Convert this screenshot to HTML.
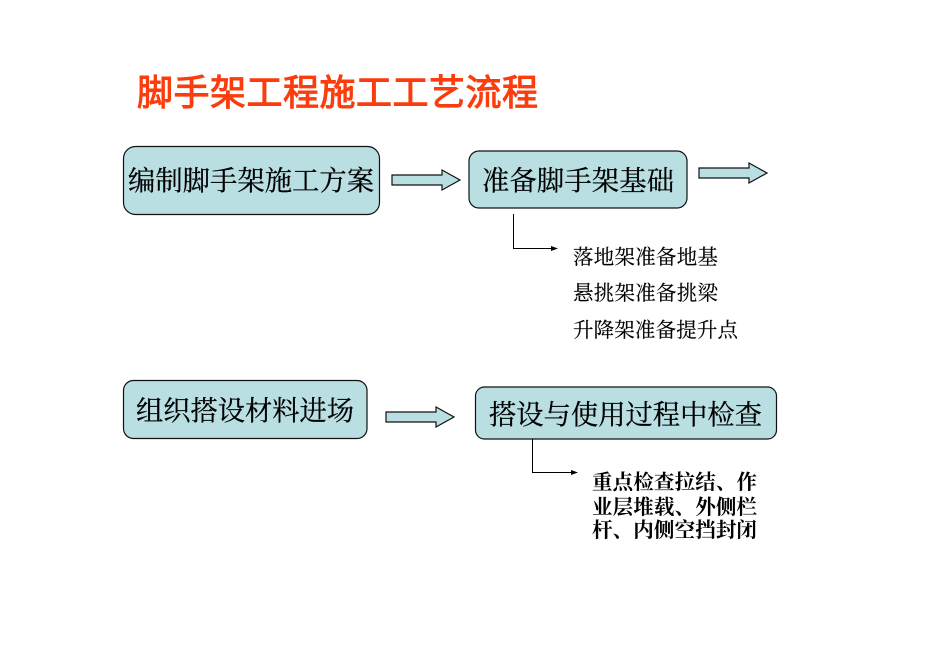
<!DOCTYPE html>
<html><head><meta charset="utf-8"><style>
html,body{margin:0;padding:0;background:#fff;width:950px;height:672px;overflow:hidden}
svg{display:block}
text{font-family:"Liberation Serif","Noto Serif CJK SC",serif;fill:#000}
</style></head><body>
<svg width="950" height="672" viewBox="0 0 950 672" xmlns="http://www.w3.org/2000/svg">
<text x="137" y="105" font-size="36" style="fill:#fb3c0c;stroke:#fb3c0c;stroke-width:1;font-family:'Liberation Sans','Noto Sans CJK SC',sans-serif" textLength="401" lengthAdjust="spacing">脚手架工程施工工艺流程</text>

<g fill="#b9dfe3" stroke="#111" stroke-width="1.2">
<rect x="123.500" y="146.500" width="256" height="68" rx="12"/>
<rect x="469" y="151" width="218" height="57" rx="10"/>
<rect x="123.500" y="380.500" width="243.500" height="58" rx="10"/>
<rect x="475.500" y="387" width="301" height="52" rx="9"/>
<path d="M392 175H442V170L460 180L442 190V185H392Z"/>
<path d="M699 168H749V163L767 173L749 183V178H699Z"/>
<path d="M386 412H436V407L454 417L436 427V422H386Z"/>
</g>

<g font-size="27.300" style="stroke:#000;stroke-width:.25">
<text x="128" y="190" textLength="246" lengthAdjust="spacing">编制脚手架施工方案</text>
<text x="482" y="190" textLength="192" lengthAdjust="spacing">准备脚手架基础</text>
<text x="136" y="420" textLength="218" lengthAdjust="spacing">组织搭设材料进场</text>
<text x="489" y="424" textLength="273" lengthAdjust="spacing">搭设与使用过程中检查</text>
</g>

<g fill="none" stroke="#000" stroke-width="1">
<path d="M513.500 214V248.500H552"/>
<path d="M532.500 439V472.500H572"/>
</g>
<path d="M558 248.500L551 246V251Z" fill="#000"/>
<path d="M578 472.500L571 470V475Z" fill="#000"/>

<g font-size="20.500" style="stroke:#000;stroke-width:.15">
<text x="573" y="264" textLength="145" lengthAdjust="spacing">落地架准备地基</text>
<text x="573" y="300" textLength="145" lengthAdjust="spacing">悬挑架准备挑梁</text>
<text x="573" y="337" textLength="165" lengthAdjust="spacing">升降架准备提升点</text>
</g>
<g font-size="20.500" font-weight="700">
<text x="592" y="489" textLength="165" lengthAdjust="spacing">重点检查拉结、作</text>
<text x="592" y="514" textLength="165" lengthAdjust="spacing">业层堆载、外侧栏</text>
<text x="592" y="537" textLength="165" lengthAdjust="spacing">杆、内侧空挡封闭</text>
</g>
</svg>
</body></html>
